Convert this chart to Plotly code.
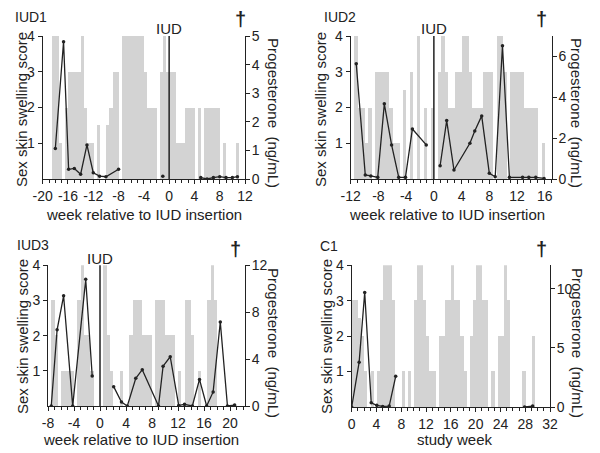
import plotly.graph_objects as go

W, H = 600, 453
PAGE_PAD = 8  # default body margin of the html page
FONT = "Arial, Liberation Sans, sans-serif"
INK = "#222222"
BAR_GREY = "#d3d3d3"

# sex skin swelling score, one value per half week, starting at *_score_start
iud1_score_start = -18.5
iud1_score = [4, 4, 1, 0, 2, 3, 3, 3, 3, 4,
              2, 1, 1, 0, 1.5, 0, 0, 1.5, 2, 3,
              3, 0, 4, 4, 4, 4, 4, 4, 4, 3,
              2, 2, 2, 0, 3, 4, 3, 3, 3, 1,
              1, 1, 2, 2, 2, 0, 2, 0, 2, 2,
              2, 2, 2, 0, 1, 0, 0, 0, 1, 0]
# progesterone (ng/mL) by week, None = break in the line
iud1_prog_week = [-18, -16.7, -15.9, -15, -14, -13, -12, -11, -10, -8, None, -1, None,
                  5, 6, 7, 8, 9, 10, 10.8]
iud1_prog = [1.07, 4.8, 0.34, 0.37, 0.17, 1.19, 0.22, 0.1, 0.08, 0.34, None, 0.1, None,
             0.05, 0, 0.05, 0.08, 0.05, 0.05, 0.08]

iud2_score_start = -11.5
iud2_score = [4, 2, 2, 1, 2, 0, 3, 3, 3, 3,
              2, 1, 1, 0, 2.5, 0, 3, 0, 4, 0,
              2, 0, 2, 0, 3, 4, 3, 2, 2, 3,
              3, 4, 4, 3, 2, 2, 2, 3, 3, 3,
              0, 4, 4, 3, 0, 3, 3, 3, 3, 2,
              2, 2, 2, 0, 1, 0]
iud2_prog_week = [-11.2, -9.9, -9.1, -8.1, -7.15, -6.1, -5.07, -4.1, -3.1, -1.1, None,
                  0.9, 1.85, 2.9, 5.2, 5.9, 6.9, 8.0, 8.85, 9.9, 10.9, 12.8, 13.7, 14.7, 15.9]
iud2_prog = [5.64, 0.2, 0.15, 0.08, 3.68, 1.67, 0.08, 0.08, 2.45, 1.67, None,
             0.65, 2.86, 0.44, 1.75, 2.35, 3.09, 0.28, 0.11, 6.52, 0.08, 0.08, 0.08, 0.08, 0.03]

iud3_score_start = -7.5
iud3_score = [3, 2, 0, 1, 1, 1, 1, 0, 3, 4,
              2, 2, 1, 0, 0, 0, 4, 2, 1, 0,
              0, 1, 0, 0, 2, 3, 3, 3, 2, 2,
              2, 0, 3, 3, 3, 2, 2, 2, 0, 1,
              0, 3, 3, 2, 0, 1, 0, 0, 3, 4,
              3, 0]
iud3_prog_week = [-7.5, -6.6, -5.6, -4.2, -2.2, -1.2, None, 2.1, 3.3, 4.2, 5.5, 6.5,
                  9.0, 9.7, 10.8, 12.1, 13.0, 14.2, 15.3, 16.4, 17.4, 18.5, 19.6, 20.7]
iud3_prog = [0, 6.5, 9.4, 0, 10.8, 2.56, None, 1.65, 0.34, 0, 2.36, 3.1,
             0, 3.4, 4.2, 0.05, 0.14, 0, 2.27, 0, 1.2, 7.16, 0, 0.08]

c1_score_start = 0
c1_score = [3, 3, 2.5, 2, 1, 0, 1, 0, 1, 3,
            4, 4, 4, 3, 0, 0, 1, 0, 1, 0,
            3, 4, 4, 3, 2, 1, 1, 0, 2, 2,
            3, 3, 4, 3, 3, 2, 1, 0, 2, 3,
            4, 4, 3, 3, 0, 1, 0, 2, 2, 4,
            3, 0, 0, 0, 0, 1, 0, 0, 2, 0]
c1_prog_week = [0, 1.2, 2.1, 3.15, 4.05, 5.0, 6.05, 7.1, None, 27.9, 29.2]
c1_prog = [0, 3.8, 9.7, 0.36, 0.14, 0.05, 0.08, 2.6, None, 0, 0.08]

# pixel boxes of each plot area (left, top, right, bottom) and label placement
panels = [
    dict(name="IUD1", start=iud1_score_start, score=iud1_score,
         pw=iud1_prog_week, pv=iud1_prog, box=(42.7, 36, 245, 179),
         xrange=[-20, 12], xticks=list(range(-20, 13, 4)),
         yr=[0, 5], yrticks=[0, 1, 2, 3, 4, 5], iud=True,
         xlabel="week relative to IUD insertion", xlab_xy=(144, 214),
         name_xy=(13, 17), dag_xy=(240, 19), ltitle_xy=(22, 110), rtitle_xy=(274, 113)),
    dict(name="IUD2", start=iud2_score_start, score=iud2_score,
         pw=iud2_prog_week, pv=iud2_prog, box=(350.7, 36, 551.7, 179),
         xrange=[-12, 17], xticks=list(range(-12, 17, 4)),
         yr=[0, 7], yrticks=[0, 2, 4, 6], iud=True,
         xlabel="week relative to IUD insertion", xlab_xy=(447, 214),
         name_xy=(322, 17), dag_xy=(541, 19), ltitle_xy=(321, 110), rtitle_xy=(577, 113)),
    dict(name="IUD3", start=iud3_score_start, score=iud3_score,
         pw=iud3_prog_week, pv=iud3_prog, box=(48, 265.3, 245, 406),
         xrange=[-8, 22.3], xticks=list(range(-8, 21, 4)),
         yr=[0, 12], yrticks=[0, 4, 8, 12], iud=True,
         xlabel="week relative to IUD insertion", xlab_xy=(141, 439),
         name_xy=(15, 245), dag_xy=(235, 249), ltitle_xy=(22, 337), rtitle_xy=(274, 343)),
    dict(name="C1", start=c1_score_start, score=c1_score,
         pw=c1_prog_week, pv=c1_prog, box=(351.7, 265.3, 550, 407),
         xrange=[0, 32], xticks=list(range(0, 33, 4)),
         yr=[0, 12], yrticks=[0, 5, 10], iud=False,
         xlabel="study week", xlab_xy=(455, 439),
         name_xy=(318, 246), dag_xy=(541, 249), ltitle_xy=(326, 337), rtitle_xy=(578, 343)),
]

FW, FH = W - PAGE_PAD, H - PAGE_PAD


def fx(x):
    return (x - PAGE_PAD) / FW


def fy(y):
    return 1 - (y - PAGE_PAD) / FH


fig = go.Figure()
layout = {}
annotations = []
shapes = []
tickfont = dict(family=FONT, size=14, color=INK)
axis_common = dict(ticks="outside", ticklen=4, tickcolor=INK, showline=True,
                   linecolor=INK, linewidth=1, showgrid=False, zeroline=False,
                   tickfont=tickfont, automargin=False)

for i, p in enumerate(panels):
    xn = "" if i == 0 else str(i + 1)
    ln = "" if i == 0 else str(2 * i + 1)
    rn = str(2 * i + 2)
    xa, ya, yb = "x" + xn, "y" + ln, "y" + rn
    left, top, right, bottom = p["box"]

    bar_x = [p["start"] + 0.5 * k for k in range(len(p["score"]))]
    fig.add_trace(go.Bar(x=bar_x, y=p["score"], width=0.5, offset=0,
                         marker=dict(color=BAR_GREY, line=dict(width=0)),
                         xaxis=xa, yaxis=ya, showlegend=False))
    fig.add_trace(go.Scatter(x=p["pw"], y=p["pv"], mode="lines+markers",
                             line=dict(color=INK, width=1.3),
                             marker=dict(color=INK, size=3.5),
                             connectgaps=False, xaxis=xa, yaxis=yb, showlegend=False))

    layout["xaxis" + xn] = dict(
        domain=[fx(left), fx(right)], range=p["xrange"], anchor=ya,
        tickvals=p["xticks"], ticktext=[str(t) for t in p["xticks"]],
        minor=dict(dtick=1, tick0=0, ticks="outside", ticklen=3, tickcolor=INK),
        **axis_common)
    layout["yaxis" + ln] = dict(
        domain=[fy(bottom), fy(top)], range=[0, 4], anchor=xa,
        tickvals=[1, 2, 3, 4], **axis_common)
    layout["yaxis" + rn] = dict(
        overlaying=ya, side="right", anchor=xa, range=p["yr"],
        tickvals=p["yrticks"], ticklabelstandoff=-1, **axis_common)

    if p["iud"]:
        shapes.append(dict(type="line", xref=xa, yref=ya + " domain",
                           x0=0, x1=0, y0=0, y1=1, line=dict(color=INK, width=1.5)))
        annotations.append(dict(text="IUD", xref=xa, yref="paper", x=0, y=fy(top - 7),
                                xanchor="center", yanchor="middle",
                                font=dict(family=FONT, size=15, color=INK)))

    annotations += [
        dict(text=p["name"], x=fx(p["name_xy"][0]), y=fy(p["name_xy"][1]),
             xanchor="left", yanchor="middle",
             font=dict(family=FONT, size=14, color=INK)),
        dict(text="<b>\u2020</b>", x=fx(p["dag_xy"][0]), y=fy(p["dag_xy"][1]),
             xanchor="center", yanchor="middle",
             font=dict(family=FONT, size=20, color=INK)),
        dict(text=p["xlabel"], x=fx(p["xlab_xy"][0]), y=fy(p["xlab_xy"][1]),
             xanchor="center", yanchor="middle",
             font=dict(family=FONT, size=15, color=INK)),
        dict(text="Sex skin swelling score", x=fx(p["ltitle_xy"][0]), y=fy(p["ltitle_xy"][1]),
             xanchor="center", yanchor="middle", textangle=-90,
             font=dict(family=FONT, size=15, color=INK)),
        dict(text="Progesterone  (ng/mL)", x=fx(p["rtitle_xy"][0]), y=fy(p["rtitle_xy"][1]),
             xanchor="center", yanchor="middle", textangle=90,
             font=dict(family=FONT, size=15, color=INK)),
    ]

for a in annotations:
    a.setdefault("xref", "paper")
    a.setdefault("yref", "paper")
    a["showarrow"] = False

fig.update_layout(
    width=FW, height=FH, margin=dict(l=0, r=0, t=0, b=0),
    paper_bgcolor="white", plot_bgcolor="white",
    bargap=0, barmode="overlay",
    annotations=annotations, shapes=shapes,
    **layout)

fig.write_html("out.html")
